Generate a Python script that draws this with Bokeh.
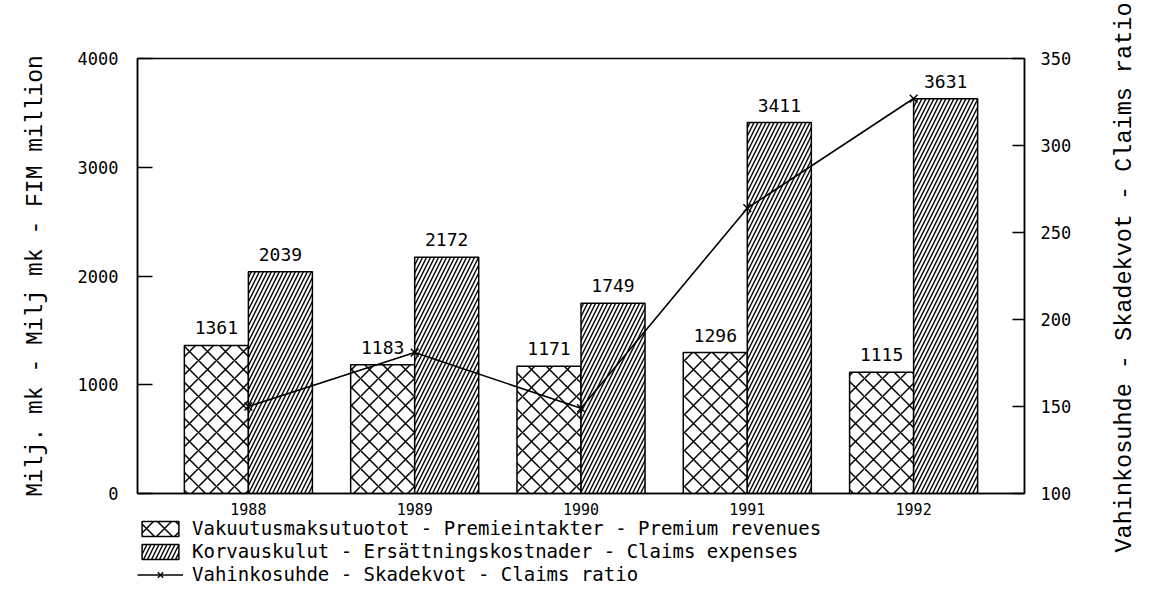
import math
from bokeh.plotting import figure
from bokeh.layouts import column, row
from bokeh.models import (FactorRange, Range1d, LinearAxis, FixedTicker, Legend,
                          LegendItem, ColumnDataSource, Label)
from bokeh.transform import dodge
from bokeh.core.properties import value
from bokeh.embed import file_html
from bokeh.resources import INLINE

years = ["1988", "1989", "1990", "1991", "1992"]
premium = [1361, 1183, 1171, 1296, 1115]
claims = [2039, 2172, 1749, 3411, 3631]
ratio = [150, 181, 149, 264, 327]
left_ticks = [0, 1000, 2000, 3000, 4000]
right_ticks = [100, 150, 200, 250, 300, 350]

lab_premium = "Vakuutusmaksutuotot - Premieintakter - Premium revenues"
lab_claims = "Korvauskulut - Ersättningskostnader - Claims expenses"
lab_ratio = "Vahinkosuhde - Skadekvot - Claims ratio"
ytitle_left = "Milj. mk - Milj mk - FIM million"
ytitle_right = "Vahinkosuhde - Skadekvot - Claims ratio"

src = ColumnDataSource(dict(year=years, premium=premium, claims=claims, ratio=ratio,
                            premium_txt=[str(v) for v in premium],
                            claims_txt=[str(v) for v in claims]))

MONO = "DejaVu Sans Mono"
TITLE_FONT = "Liberation Mono"
W_MAIN = 1093
W_STRIP = 44
H_MAIN = 517
H_LEG = 67
H_ALL = H_MAIN + H_LEG

bar_style = dict(fill_color="white", line_color="black", line_width=1.5, hatch_color="black")
cross_style = dict(hatch_pattern="x", hatch_weight=1.5, hatch_scale=18)
diag_style = dict(hatch_pattern="/", hatch_weight=1.4, hatch_scale=8)

p = figure(x_range=FactorRange(*years, range_padding=0.0667),
           y_range=Range1d(0, 4000),
           width=W_MAIN, height=H_MAIN, output_backend="svg", toolbar_location=None,
           min_border_left=137, min_border_right=69, min_border_top=58,
           min_border_bottom=21)
p.extra_y_ranges = {"ratio": Range1d(100, 350)}
p.background_fill_color = "white"
p.border_fill_color = "white"
p.outline_line_color = "black"
p.outline_line_width = 1.5
p.xgrid.visible = False
p.ygrid.visible = False

bw = 0.385
p.vbar(x=dodge("year", -bw / 2, range=p.x_range), top="premium", width=bw, source=src,
       **bar_style, **cross_style)
p.vbar(x=dodge("year", bw / 2, range=p.x_range), top="claims", width=bw, source=src,
       **bar_style, **diag_style)

p.text(x=dodge("year", -bw / 2, range=p.x_range), y="premium", text="premium_txt", source=src,
       text_font=value(MONO), text_font_size="18px", text_align="center",
       text_baseline="bottom", y_offset=-11, text_color="black")
p.text(x=dodge("year", bw / 2, range=p.x_range), y="claims", text="claims_txt", source=src,
       text_font=value(MONO), text_font_size="18px", text_align="center",
       text_baseline="bottom", y_offset=-11, text_color="black")

p.line(x="year", y="ratio", source=src, y_range_name="ratio",
       line_color="black", line_width=1.6)
p.scatter(x="year", y="ratio", source=src, y_range_name="ratio", marker="x",
          size=11, line_color="black", line_width=1.4)

# left axis
lax = p.yaxis[0]
lax.ticker = FixedTicker(ticks=left_ticks)
lax.minor_tick_line_color = None
lax.major_tick_in = 15
lax.major_tick_out = 0
lax.major_tick_line_width = 1.5
lax.axis_line_width = 1.5
lax.major_label_standoff = 19
lax.major_label_text_font = MONO
lax.major_label_text_font_size = "17px"
lax.major_label_text_color = "black"
lax.axis_label = ytitle_left
lax.axis_label_text_font = TITLE_FONT
lax.axis_label_text_font_size = "23px"
lax.axis_label_text_font_style = "normal"
lax.axis_label_standoff = 26
lax.axis_label_text_color = "black"

# right axis
rax = LinearAxis(y_range_name="ratio", ticker=FixedTicker(ticks=right_ticks))
rax.minor_tick_line_color = None
rax.major_tick_in = 12
rax.major_tick_out = 0
rax.major_tick_line_width = 1.5
rax.axis_line_width = 1.5
rax.major_label_standoff = 16
rax.major_label_text_font = MONO
rax.major_label_text_font_size = "17px"
rax.major_label_text_color = "black"
p.add_layout(rax, "right")

# x axis
xax = p.xaxis[0]
xax.major_tick_line_color = None
xax.minor_tick_line_color = None
xax.axis_line_width = 1.5
xax.major_label_standoff = 3
xax.major_label_text_font = MONO
xax.major_label_text_font_size = "15px"
xax.major_label_text_color = "black"

# legend strip below the chart
pl = figure(width=W_MAIN, height=H_LEG, output_backend="svg", toolbar_location=None,
            x_range=Range1d(0, 1), y_range=Range1d(0, 1),
            x_axis_location=None, y_axis_location=None,
            min_border_left=137, min_border_right=0, min_border_top=0, min_border_bottom=0)
pl.outline_line_color = None
pl.xgrid.visible = False
pl.ygrid.visible = False
lr1 = pl.vbar(x=[-10], top=[-10], width=0.1, **bar_style, **cross_style)
lr2 = pl.vbar(x=[-10], top=[-10], width=0.1, **bar_style, **diag_style)
lr3 = pl.line(x=[-10, -9], y=[-10, -9], line_color="black", line_width=1.6)
lr4 = pl.scatter(x=[-10], y=[-10], marker="x", size=11, line_color="black", line_width=1.4)

legend = Legend(items=[LegendItem(label=lab_premium, renderers=[lr1]),
                       LegendItem(label=lab_claims, renderers=[lr2]),
                       LegendItem(label=lab_ratio, renderers=[lr3, lr4])],
                location="top_left", orientation="vertical",
                glyph_width=46, glyph_height=19, label_height=19,
                label_standoff=9, spacing=1, padding=0, margin=0,
                border_line_color=None, background_fill_alpha=0,
                label_text_font=MONO, label_text_font_size="19px",
                label_text_color="black")
pl.add_layout(legend, "center")

# right-hand title strip (reads bottom to top)
pr = figure(width=W_STRIP, height=H_ALL, output_backend="svg", toolbar_location=None,
            x_range=Range1d(0, W_STRIP), y_range=Range1d(0, H_ALL),
            x_axis_location=None, y_axis_location=None, min_border=0)
pr.outline_line_color = None
pr.xgrid.visible = False
pr.ygrid.visible = False
pr.add_layout(Label(x=31, y=H_ALL - 277, text=ytitle_right, angle=math.pi / 2,
                    text_align="center", text_baseline="middle",
                    text_font=TITLE_FONT, text_font_size="23.5px", text_color="black"))

layout = row(column(p, pl, spacing=0), pr, spacing=0)
open("out.html", "w").write(file_html(layout, INLINE))
